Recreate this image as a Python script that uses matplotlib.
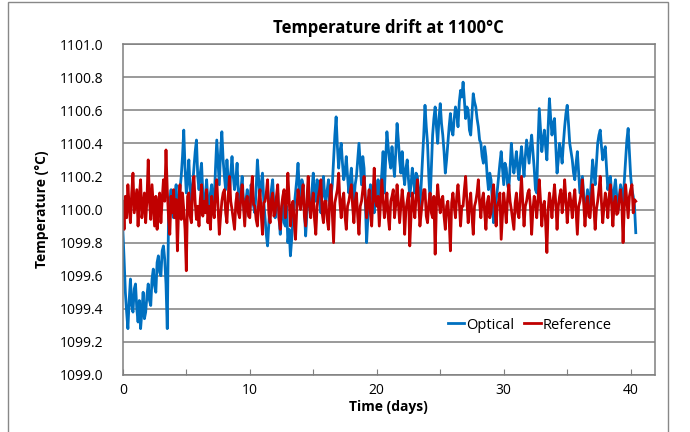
import numpy as np
import matplotlib.pyplot as plt
from matplotlib.patches import Rectangle

plt.rcParams['font.family'] = ['Open Sans', 'DejaVu Sans']

# set point of the furnace
setpoint = 1100.0
sample_step = 0.1  # days between logged samples

# optical sensor, deviation from set point (degC), one row = 2 days
optical_dev = [
    -0.12, -0.30, -0.50, -0.62, -0.72, -0.55, -0.42, -0.58, -0.62, -0.48, -0.45, -0.60, -0.68, -0.55, -0.72, -0.62, -0.50, -0.66, -0.62, -0.52,
    -0.45, -0.55, -0.58, -0.42, -0.36, -0.46, -0.50, -0.32, -0.28, -0.38, -0.40, -0.25, -0.22, -0.30, -0.45, -0.72, -0.05, 0.05, 0.12, -0.02,
    -0.05, 0.08, 0.15, -0.02, 0.02, 0.12, 0.20, 0.32, 0.48, 0.25, 0.10, 0.18, 0.30, 0.12, 0.05, 0.15, 0.25, 0.35, 0.42, 0.20,
    0.12, 0.22, 0.28, 0.10, 0.00, 0.08, 0.18, 0.05, -0.05, 0.10, 0.15, 0.02, 0.05, 0.25, 0.42, 0.28, 0.15, 0.35, 0.47, 0.30,
    0.20, 0.12, 0.30, 0.18, 0.08, 0.22, 0.32, 0.20, 0.12, 0.18, 0.28, 0.10, 0.02, 0.12, 0.20, 0.05, -0.05, 0.06, 0.12, 0.00,
    0.00, 0.15, 0.10, 0.02, -0.02, 0.12, 0.30, 0.18, 0.08, 0.15, 0.22, 0.05, -0.05, -0.15, -0.22, -0.08, 0.05, 0.12, 0.18, 0.02,
    -0.05, 0.05, 0.10, -0.05, -0.15, -0.02, 0.05, -0.08, -0.10, 0.02, -0.20, -0.12, -0.28, -0.18, -0.05, 0.02, 0.10, 0.18, 0.28, 0.12,
    0.05, 0.18, 0.15, 0.00, -0.16, -0.02, 0.10, 0.02, 0.00, 0.12, 0.22, 0.10, 0.05, 0.18, 0.15, 0.05, -0.02, 0.10, 0.20, 0.08,
    0.05, 0.12, 0.18, 0.02, 0.08, 0.15, 0.30, 0.45, 0.56, 0.38, 0.25, 0.35, 0.40, 0.28, 0.18, 0.22, 0.32, 0.20, 0.10, 0.18,
    0.25, 0.12, 0.05, 0.15, 0.20, 0.30, 0.40, 0.28, 0.15, 0.32, 0.25, 0.05, -0.20, -0.05, 0.05, 0.15, 0.12, 0.02, -0.02, 0.08,
    0.10, 0.18, 0.00, 0.12, 0.22, 0.35, 0.10, 0.30, 0.47, 0.38, 0.30, 0.25, 0.38, 0.28, 0.20, 0.35, 0.52, 0.42, 0.30, 0.22,
    0.35, 0.22, 0.15, 0.25, 0.30, 0.18, 0.08, 0.15, 0.25, 0.18, 0.10, 0.22, 0.20, 0.10, 0.02, 0.15, 0.30, 0.45, 0.63, 0.50,
    0.40, 0.20, 0.05, 0.25, 0.45, 0.55, 0.62, 0.50, 0.40, 0.55, 0.64, 0.52, 0.45, 0.35, 0.22, 0.30, 0.40, 0.50, 0.58, 0.48,
    0.45, 0.55, 0.62, 0.58, 0.50, 0.65, 0.72, 0.68, 0.77, 0.66, 0.55, 0.62, 0.60, 0.48, 0.45, 0.58, 0.70, 0.65, 0.62, 0.55,
    0.50, 0.42, 0.40, 0.32, 0.28, 0.38, 0.32, 0.20, 0.12, 0.22, 0.18, 0.05, -0.08, -0.02, 0.05, 0.12, 0.20, 0.28, 0.35, 0.25,
    0.15, 0.28, 0.25, 0.15, 0.12, 0.25, 0.40, 0.30, 0.22, 0.28, 0.35, 0.25, 0.18, 0.30, 0.38, 0.28, 0.20, 0.32, 0.42, 0.35,
    0.28, 0.38, 0.45, 0.35, 0.25, 0.12, 0.10, 0.40, 0.61, 0.48, 0.35, 0.42, 0.48, 0.38, 0.30, 0.50, 0.67, 0.55, 0.45, 0.52,
    0.55, 0.38, 0.22, 0.30, 0.40, 0.35, 0.28, 0.40, 0.50, 0.58, 0.63, 0.52, 0.40, 0.35, 0.30, 0.22, 0.18, 0.28, 0.35, 0.22,
    0.10, 0.15, 0.20, 0.08, -0.02, 0.05, 0.12, 0.02, 0.05, 0.18, 0.30, 0.22, 0.15, 0.28, 0.40, 0.45, 0.48, 0.38, 0.30, 0.35,
    0.38, 0.25, 0.12, 0.18, 0.20, 0.10, 0.05, 0.12, 0.18, 0.08, 0.00, 0.08, 0.15, 0.10, 0.05, 0.18, 0.30, 0.42, 0.49, 0.35,
    0.20, 0.12, 0.08, 0.02, -0.14,
]

# reference thermocouple, deviation from set point (degC), one row = 2 days
reference_dev = [
    0.05, -0.12, 0.08, -0.05, 0.15, 0.02, -0.08, 0.10, 0.22, -0.02, 0.05, 0.12, -0.10, 0.08, 0.18, -0.05, 0.02, 0.10, -0.08, 0.06,
    0.30, 0.05, -0.06, 0.15, 0.02, -0.10, 0.08, -0.12, 0.04, 0.10, -0.08, 0.06, 0.18, 0.05, 0.36, 0.12, -0.05, -0.15, 0.08, -0.02,
    0.12, -0.05, 0.06, -0.25, 0.02, 0.15, -0.06, 0.10, 0.00, -0.12, -0.37, 0.08, 0.10, -0.04, -0.08, 0.12, 0.20, 0.04, -0.06, 0.02,
    -0.10, 0.06, 0.15, -0.04, 0.05, -0.02, 0.12, -0.08, 0.02, -0.12, 0.08, 0.00, -0.05, 0.10, 0.18, 0.02, -0.15, -0.04, 0.05, 0.10,
    0.12, -0.02, -0.08, 0.08, 0.20, 0.05, 0.00, -0.06, -0.12, 0.04, 0.10, -0.02, -0.05, 0.08, 0.15, 0.02, -0.10, 0.05, 0.08, -0.04,
    -0.05, 0.10, 0.20, 0.03, 0.02, -0.06, -0.10, 0.05, 0.12, -0.03, -0.15, 0.04, 0.05, 0.10, 0.18, -0.02, -0.08, 0.06, 0.10, -0.04,
    -0.02, 0.08, 0.15, -0.05, -0.12, 0.02, 0.08, 0.12, -0.05, 0.04, 0.22, 0.06, -0.10, 0.02, 0.05, -0.08, -0.18, 0.00, 0.12, 0.05,
    0.00, 0.08, 0.15, -0.04, -0.10, 0.06, 0.20, 0.02, -0.05, 0.04, 0.10, -0.06, -0.15, 0.02, 0.08, 0.12, 0.18, -0.02, -0.08, 0.05,
    0.05, -0.06, -0.12, 0.06, 0.15, -0.02, -0.20, 0.04, 0.08, 0.12, 0.22, 0.04, -0.05, 0.06, 0.10, -0.04, -0.12, 0.02, 0.05, 0.10,
    0.15, 0.02, -0.08, 0.05, 0.10, -0.04, -0.15, 0.02, 0.05, 0.12, 0.20, 0.06, -0.05, 0.04, 0.12, -0.02, -0.10, 0.08, 0.25, 0.05,
    0.02, 0.08, -0.10, 0.04, 0.18, 0.06, -0.05, 0.02, 0.10, -0.04, -0.12, 0.05, 0.08, 0.12, -0.05, 0.03, 0.15, 0.04, -0.08, 0.02,
    0.12, 0.04, -0.15, 0.00, 0.05, 0.10, -0.22, -0.04, 0.10, 0.02, -0.05, 0.08, 0.18, 0.05, -0.10, -0.02, 0.05, 0.12, 0.12, -0.04,
    -0.08, 0.04, 0.10, -0.02, -0.05, 0.08, -0.27, 0.02, 0.15, 0.05, -0.02, 0.06, 0.08, -0.04, -0.12, 0.02, 0.05, -0.06, -0.25, 0.04,
    0.10, 0.02, -0.05, 0.08, 0.15, 0.04, -0.10, 0.02, 0.02, 0.12, 0.20, 0.05, -0.08, 0.03, 0.10, -0.04, -0.15, 0.02, 0.05, 0.10,
    0.18, 0.04, -0.05, 0.06, 0.10, -0.02, -0.12, 0.04, 0.08, -0.05, -0.02, 0.08, 0.15, 0.03, -0.10, 0.02, 0.05, 0.10, -0.18, -0.04,
    0.10, 0.02, -0.08, 0.06, 0.15, 0.05, 0.00, -0.06, -0.12, 0.04, 0.10, -0.02, -0.05, 0.08, 0.20, 0.04, -0.10, 0.02, 0.05, 0.10,
    0.12, 0.02, -0.15, 0.00, 0.08, 0.04, -0.05, 0.06, 0.18, 0.05, -0.10, 0.02, 0.05, -0.08, -0.26, 0.00, 0.10, 0.04, -0.05, 0.06,
    0.15, 0.04, -0.12, 0.02, 0.08, 0.12, -0.02, 0.05, 0.18, 0.06, -0.08, 0.02, 0.10, 0.04, -0.05, 0.06, 0.12, -0.02, -0.15, 0.02,
    0.05, 0.10, 0.18, 0.04, -0.10, 0.02, 0.08, -0.04, -0.05, 0.06, 0.15, 0.02, -0.12, 0.00, 0.05, 0.12, 0.20, 0.04, -0.08, 0.02,
    0.10, 0.04, -0.05, 0.08, 0.15, 0.02, -0.10, 0.04, 0.08, -0.03, -0.02, 0.06, 0.12, 0.04, -0.20, 0.02, 0.15, 0.05, -0.05, 0.08,
    0.12, 0.15, -0.02, 0.06, 0.05,
]

x_ticks = [0, 5, 10, 15, 20, 25, 30, 35, 40]
x_labels = ['0', '', '10', '', '20', '', '30', '', '40']
y_ticks = [1099.0, 1099.2, 1099.4, 1099.6, 1099.8, 1100.0,
           1100.2, 1100.4, 1100.6, 1100.8, 1101.0]

days = np.arange(len(optical_dev)) * sample_step
optical = setpoint + np.array(optical_dev)
reference = setpoint + np.array(reference_dev)

fig = plt.figure(figsize=(6.9, 4.32), dpi=100)
ax = fig.add_axes([0.178, 0.132, 0.771, 0.766])

ax.plot(days, optical, color='#0070C0', lw=2.0, label='Optical')
ax.plot(days, reference, color='#C00000', lw=2.0, label='Reference')

ax.set_xlim(0, 41.9)
ax.set_ylim(1099.0, 1101.0)
ax.set_yticks(y_ticks)
ax.set_yticklabels(['%.1f' % v for v in y_ticks])
ax.set_xticks(x_ticks)
ax.set_xticklabels(x_labels)
ax.grid(axis='y', color='#7f7f7f', lw=1.1)
ax.set_axisbelow(True)
ax.tick_params(axis='x', direction='in', length=4, color='#7f7f7f',
               labelsize=10, pad=6)
ax.tick_params(axis='y', length=0, labelsize=10, pad=14)
for s in ax.spines.values():
    s.set_color('#7f7f7f')
    s.set_linewidth(1.1)

ax.set_title('Temperature drift at 1100°C', fontsize=12, fontweight='bold', pad=8)
ax.set_xlabel('Time (days)', fontsize=10, fontweight='bold', labelpad=1)
ax.set_ylabel('Temperature (°C)', fontsize=10, fontweight='bold', labelpad=8)

ax.legend(loc='center', bbox_to_anchor=(0.765, 0.151), ncol=2, frameon=False,
          handlelength=1.1, handletextpad=0.15, columnspacing=0.7, fontsize=10.5)

# outer chart frame
fig.patches.append(Rectangle((0.0116, -0.01), 0.957, 1.005, transform=fig.transFigure,
                             fill=False, edgecolor='#888888', lw=1.0))

fig.savefig('out.png', dpi=100)
plt.close(fig)
